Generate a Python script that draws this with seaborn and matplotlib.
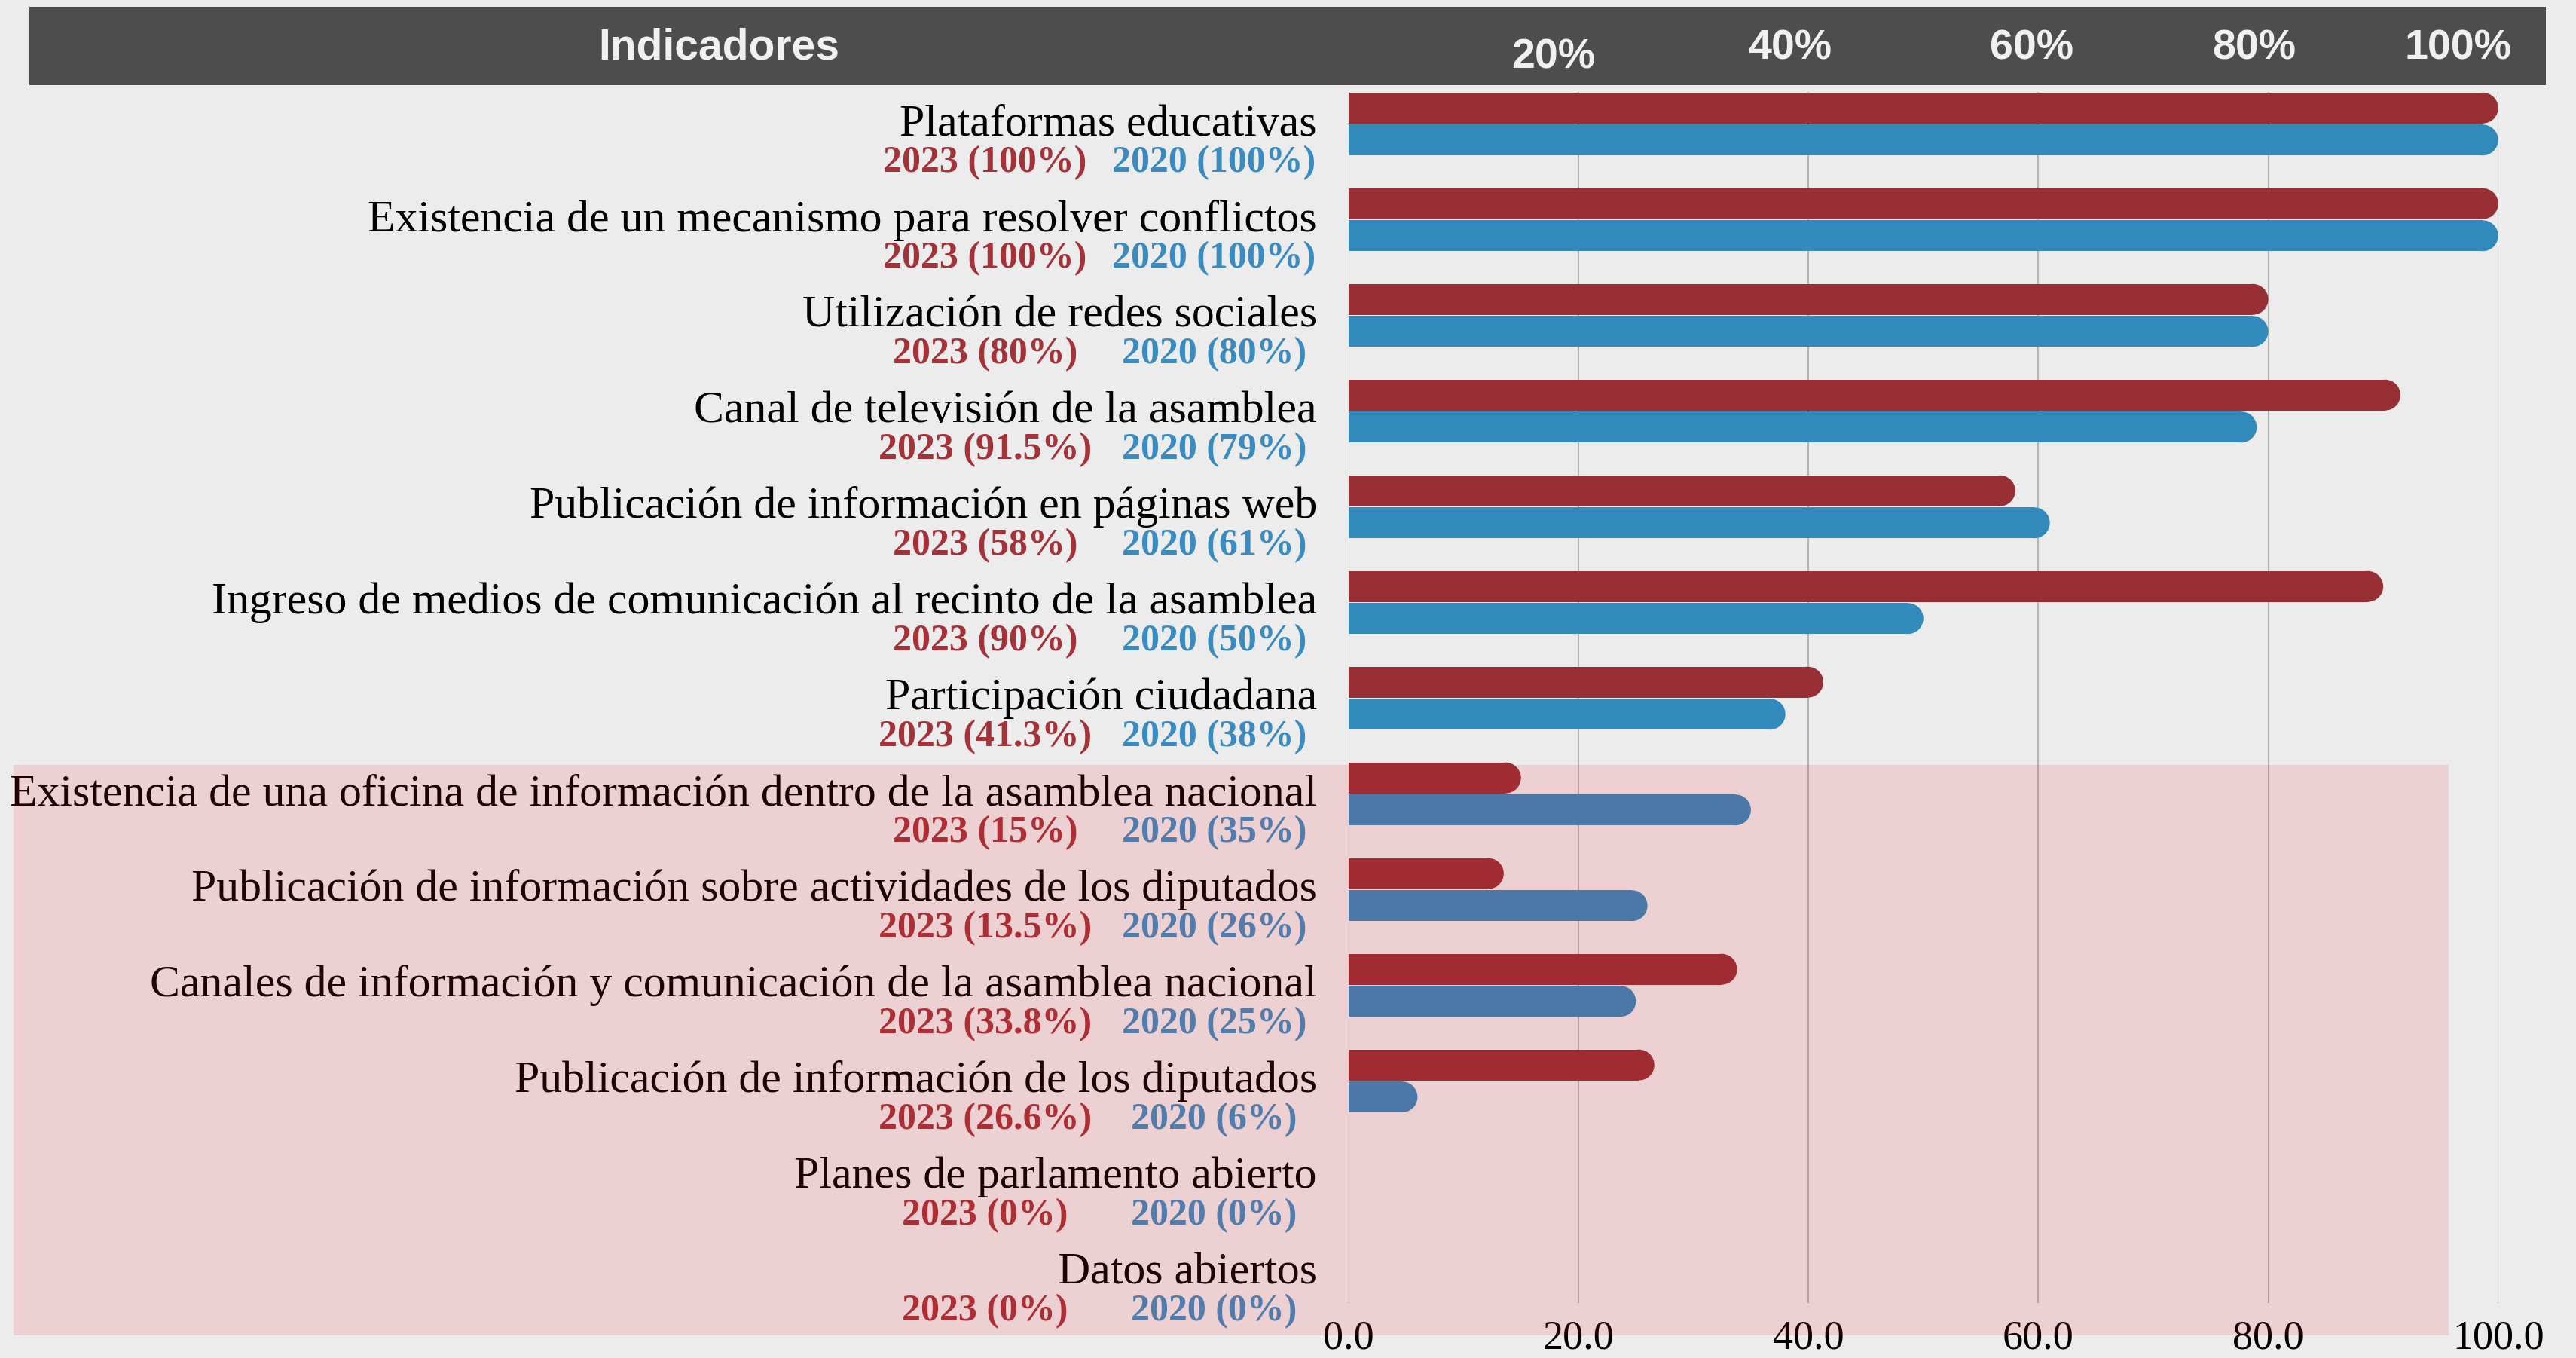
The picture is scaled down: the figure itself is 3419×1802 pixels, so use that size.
import pandas as pd
import seaborn as sns
import matplotlib.pyplot as plt
from matplotlib import transforms
from matplotlib.patches import Rectangle, Ellipse
from matplotlib.ticker import StrMethodFormatter

# Data
indicadores = [
    "Plataformas educativas",
    "Existencia de un mecanismo para resolver conflictos",
    "Utilización de redes sociales",
    "Canal de televisión de la asamblea",
    "Publicación de información en páginas web",
    "Ingreso de medios de comunicación al recinto de la asamblea",
    "Participación ciudadana",
    "Existencia de una oficina de información dentro de la asamblea nacional",
    "Publicación de información sobre actividades de los diputados",
    "Canales de información y comunicación de la asamblea nacional",
    "Publicación de información de los diputados",
    "Planes de parlamento abierto",
    "Datos abiertos",
]
valores_2023 = [100, 100, 80, 91.5, 58, 90, 41.3, 15, 13.5, 33.8, 26.6, 0, 0]
valores_2020 = [100, 100, 80, 79, 61, 50, 38, 35, 26, 25, 6, 0, 0]
ticks = [0, 20, 40, 60, 80, 100]
header_labels = ["20%", "40%", "60%", "80%", "100%"]

n = len(indicadores)
df = pd.DataFrame({
    "indicador": indicadores * 2,
    "valor": valores_2023 + valores_2020,
    "año": ["2023"] * n + ["2020"] * n,
})

bg = "#ececec"
red = "#972f35"
blue = "#3289bb"
red_txt = "#a53238"
blue_txt = "#3a8cc0"

sns.set_style("white", {"axes.facecolor": "none", "figure.facecolor": bg})
plt.rcParams["font.family"] = ["Liberation Serif", "DejaVu Serif"]

fig = plt.figure(figsize=(34.19, 18.02), dpi=100)
fig.patch.set_facecolor(bg)
ax = fig.add_axes([0.5235, 0.0405, 0.4463, 0.8918])

sns.barplot(data=df, y="indicador", x="valor", hue="año", orient="h",
            palette=[red, blue], width=0.67, gap=0.04, saturation=1,
            errorbar=None, legend=False, linewidth=0, ax=ax)

ax.set_xlim(0, 100)
ax.set_ylim(n - 0.68, -0.335)

# rounded right ends on the bars
bb = ax.get_window_extent()
px_x = bb.width / 100
px_y = bb.height / (n - 0.68 + 0.335)
for bar in list(ax.patches):
    w, h = bar.get_width(), bar.get_height()
    if w <= 0:
        continue
    rx = (h / 2) * px_y / px_x
    bar.set_width(w - rx)
    ax.add_patch(Ellipse((bar.get_x() + w - rx, bar.get_y() + h / 2), 2 * rx, h,
                         facecolor=bar.get_facecolor(), lw=0))

ax.set_xticks(ticks)
ax.xaxis.set_major_formatter(StrMethodFormatter("{x:.1f}"))
ax.tick_params(axis="x", length=0, pad=16, labelsize=39, labelcolor="black")
ax.set_yticks([])
ax.set_xlabel("")
ax.set_ylabel("")
ax.grid(axis="x", color="#b4b4b4", lw=1.5)
ax.set_axisbelow(True)
sns.despine(ax=ax, left=True, bottom=True)

# category labels with values underneath
trans = transforms.blended_transform_factory(ax.transAxes, ax.transData)
for i, name in enumerate(indicadores):
    ax.text(-0.0275, i + 0.118, name, transform=trans, ha="right", va="baseline",
            fontsize=43, color="black", clip_on=False)
    ax.text(-0.316, i + 0.5, f"2023 ({valores_2023[i]:g}%)", transform=trans,
            ha="center", va="baseline", fontsize=36, fontweight="bold",
            color=red_txt, clip_on=False)
    ax.text(-0.117, i + 0.5, f"2020 ({valores_2020[i]:g}%)", transform=trans,
            ha="center", va="baseline", fontsize=36, fontweight="bold",
            color=blue_txt, clip_on=False)

# dark header band
fig.add_artist(Rectangle((0.0114, 0.9373), 0.9769, 0.0577, transform=fig.transFigure,
                         facecolor="#4d4d4d", lw=0, zorder=5))
fig.text(0.279, 0.9562, "Indicadores", ha="center", va="baseline", fontsize=41,
         fontweight="bold", color="#f0f0f0", family="Liberation Sans", zorder=6)
htrans = transforms.blended_transform_factory(ax.transData, fig.transFigure)
header_x = [17.8, 38.4, 59.4, 78.8, 96.5]
header_y = [0.950, 0.9562, 0.9562, 0.9562, 0.9562]
for lab, hx, hy in zip(header_labels, header_x, header_y):
    fig.text(hx, hy, lab, transform=htrans, ha="center", va="baseline", fontsize=40,
             fontweight="bold", color="#f0f0f0", family="Liberation Sans", zorder=6)

# translucent highlight over the lower indicators
fig.add_artist(Rectangle((0.00526, 0.01665), 0.9453, 0.4201, transform=fig.transFigure,
                         facecolor="#ec1524", alpha=0.13, lw=0, zorder=10))

fig.savefig("out.png", dpi=100, facecolor=bg)
